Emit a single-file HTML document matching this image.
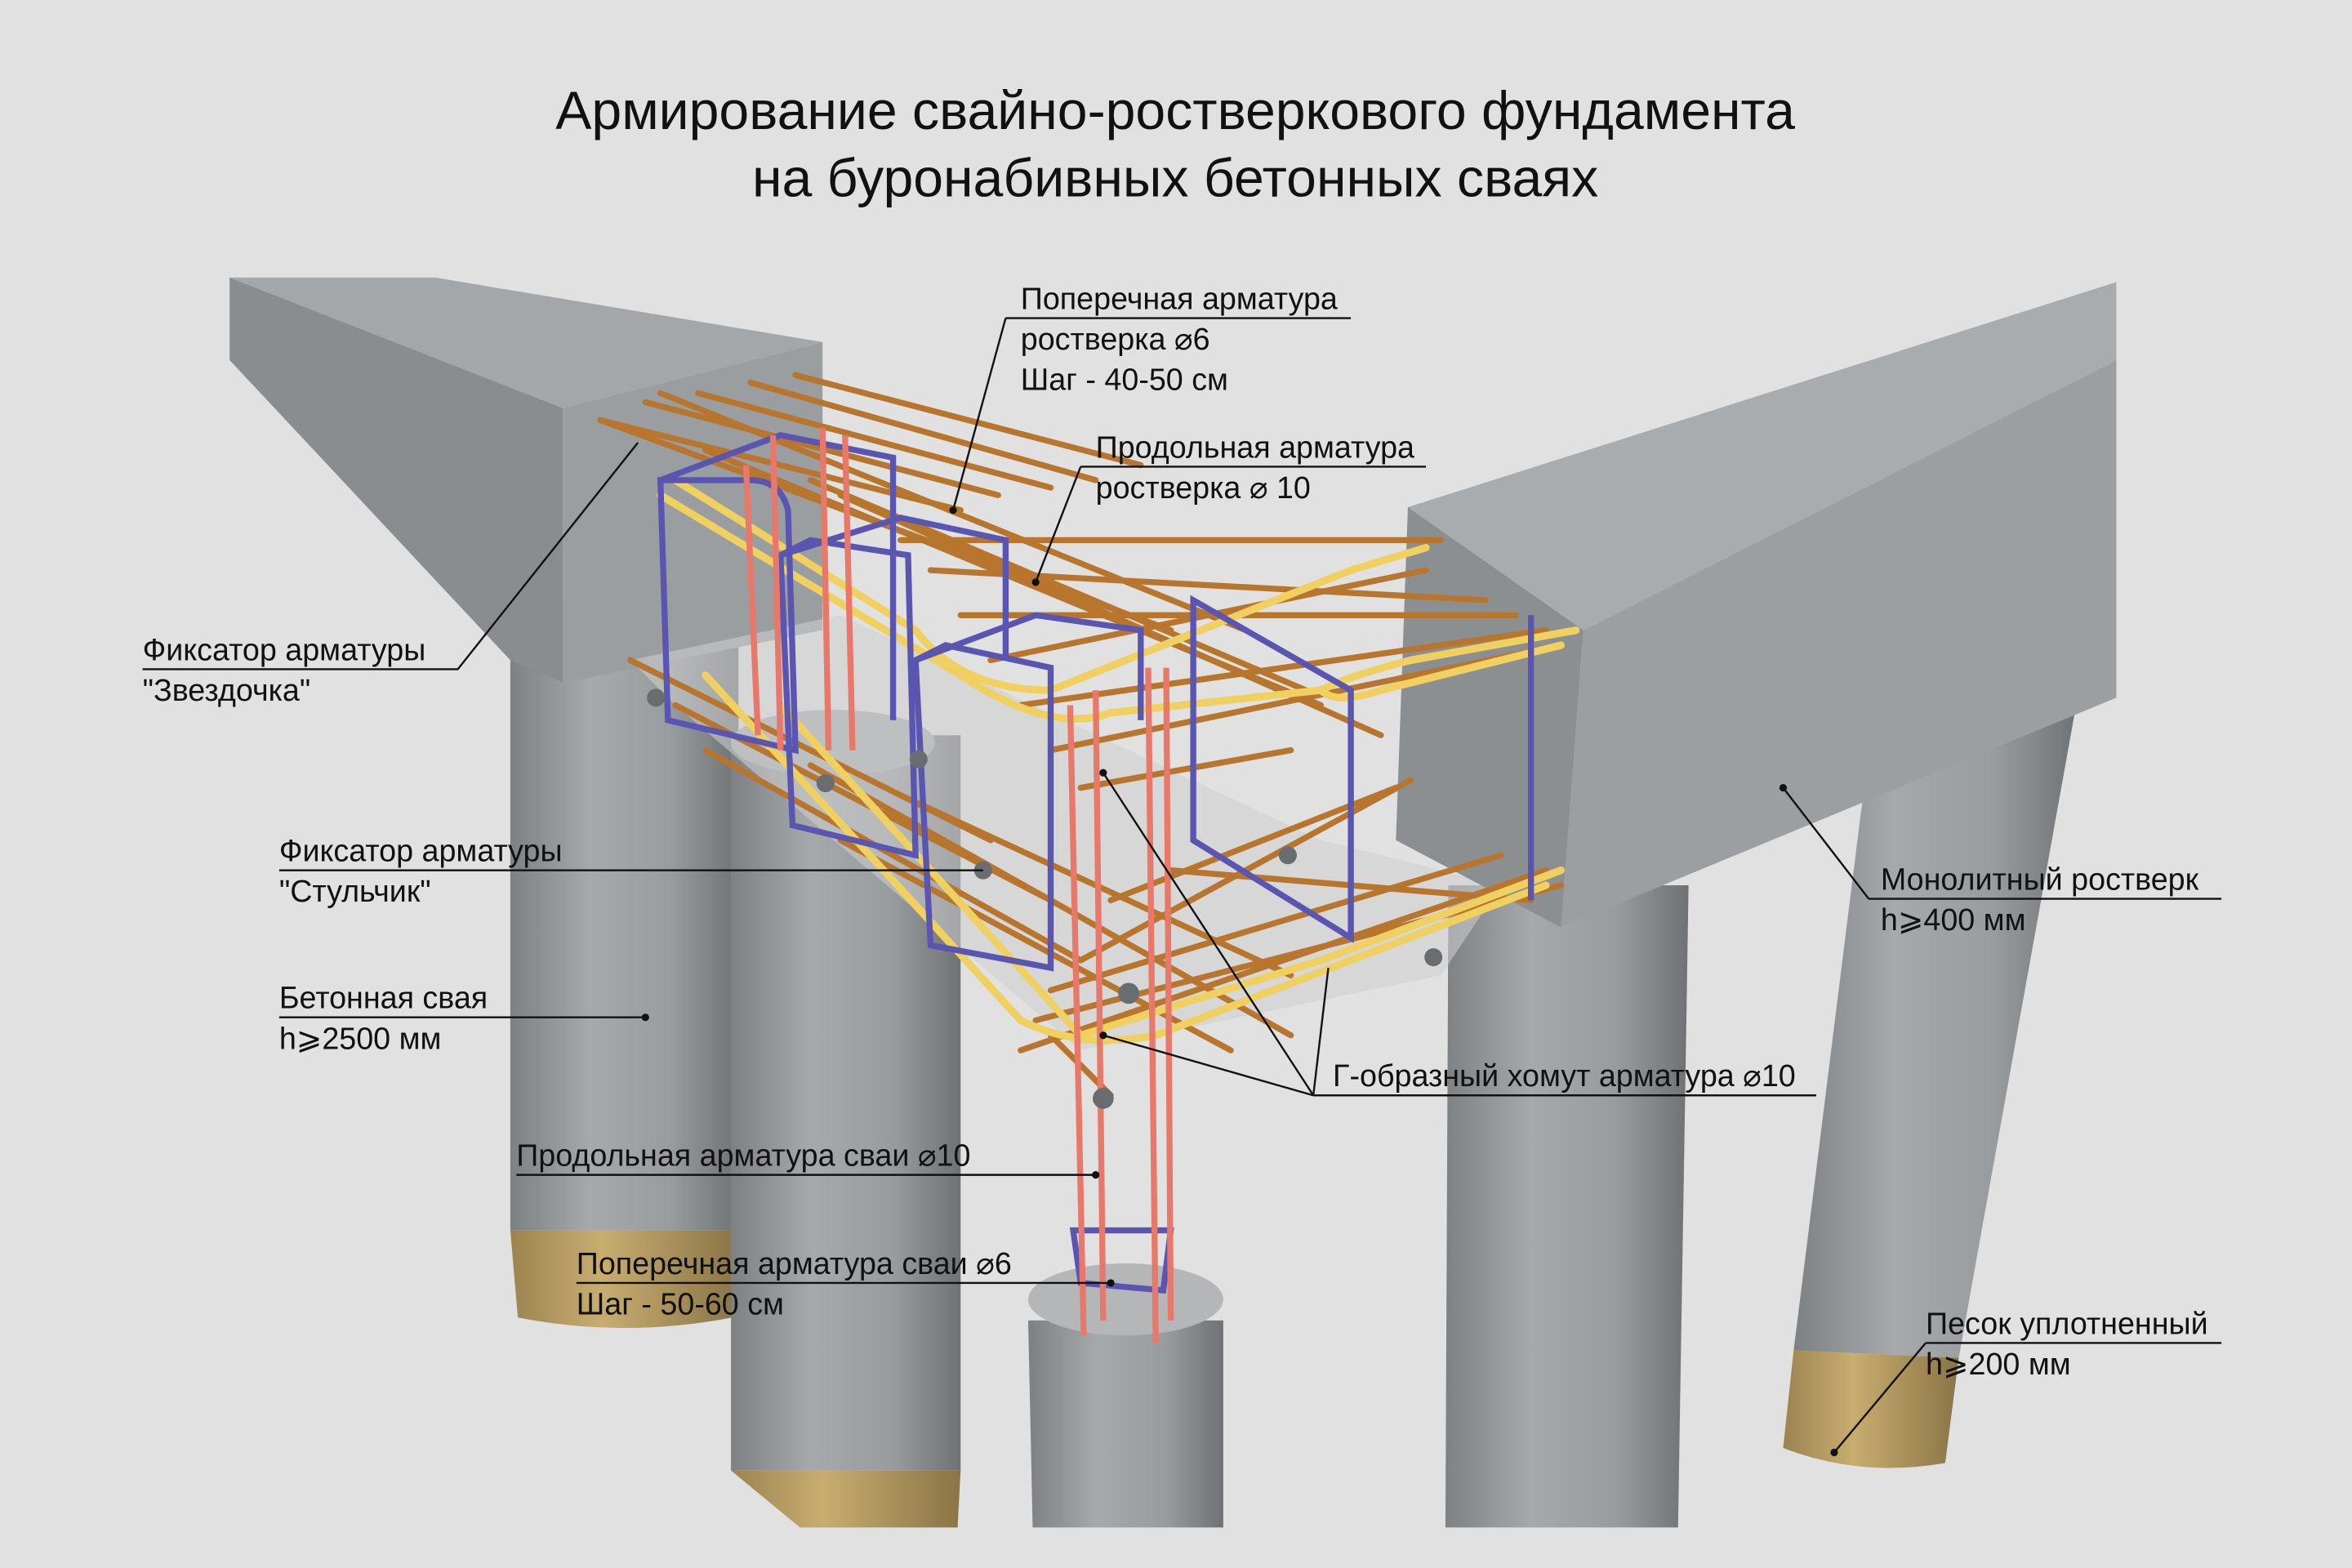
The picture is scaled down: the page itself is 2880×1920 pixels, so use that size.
<!DOCTYPE html>
<html><head><meta charset="utf-8"><style>
html,body{margin:0;padding:0;background:#e1e1e1;}
svg{display:block;}
text{font-family:"Liberation Sans","DejaVu Sans",sans-serif;fill:#111;}
</style></head><body>
<svg width="2880" height="1920" viewBox="0 0 1567 1045" preserveAspectRatio="none" xmlns="http://www.w3.org/2000/svg">
<defs>
<linearGradient id="cyl" x1="0" x2="1" y1="0" y2="0">
<stop offset="0" stop-color="#7e8184"/><stop offset="0.35" stop-color="#a6a9ac"/><stop offset="0.7" stop-color="#999c9f"/><stop offset="1" stop-color="#6f7275"/></linearGradient>
<linearGradient id="sand" x1="0" x2="1"><stop offset="0" stop-color="#9c8450"/><stop offset="0.4" stop-color="#c8ad70"/><stop offset="1" stop-color="#8a7446"/></linearGradient>
</defs>
<rect width="1567" height="1045" fill="#e1e1e1"/>
<text x="783" y="86" font-size="36" text-anchor="middle">Армирование свайно-ростверкового фундамента</text>
<text x="783" y="131" font-size="36" text-anchor="middle">на буронабивных бетонных сваях</text>

<!-- piles -->
<g>
<rect x="340" y="400" width="152" height="420" fill="url(#cyl)"/>
<path d="M340 820 L492 820 L488 878 Q416 892 345 878 Z" fill="url(#sand)"/>
<polygon points="1250,460 1385,460 1305,905 1195,900" fill="url(#cyl)"/>
<path d="M1195 900 L1305 905 L1296 975 Q1240 985 1188 965 Z" fill="url(#sand)"/>
<rect x="487" y="490" width="153" height="490" fill="url(#cyl)"/>
<path d="M487 980 L640 980 L638 1018 L533 1018 Z" fill="url(#sand)"/>
<ellipse cx="555" cy="495" rx="68" ry="22" fill="#a9abad"/>
<path d="M965 590 L1125 590 L1118 1018 L963 1018 Z" fill="url(#cyl)"/>
<path d="M685 880 L815 880 L815 1018 L688 1018 Z" fill="url(#cyl)"/>
<ellipse cx="750" cy="866" rx="65" ry="24" fill="#b4b6b8"/>
</g>

<!-- left beam -->
<polygon points="153,185 290,185 548,228 375,272" fill="#a4a7aa"/>
<polygon points="153,185 375,272 375,455 340,440 153,240" fill="#8a8d90"/>
<polygon points="375,272 548,228 548,420 375,455" fill="#9b9ea1"/>
<polygon points="420,440 560,410 880,560 1000,590 960,650 720,700 450,470" fill="#cfd0d1" opacity="0.55"/>

<!-- right beam -->
<polygon points="938,338 1410,188 1410,240 1055,420" fill="#a9acaf"/>
<polygon points="938,338 1055,420 1040,618 930,560" fill="#8c8f92"/>
<polygon points="1055,420 1410,240 1410,465 1040,618" fill="#9c9fa2"/>

<g stroke="#b8752e" stroke-width="4" stroke-linecap="round">
<line x1="400" y1="280" x2="640" y2="340"/><line x1="430" y1="268" x2="665" y2="330"/><line x1="465" y1="262" x2="700" y2="325"/><line x1="500" y1="255" x2="730" y2="320"/><line x1="530" y1="250" x2="760" y2="310"/>
<line x1="400" y1="280" x2="780" y2="420"/><line x1="440" y1="262" x2="830" y2="420"/><line x1="470" y1="300" x2="880" y2="470"/>
<line x1="540" y1="320" x2="870" y2="460"/><line x1="560" y1="330" x2="920" y2="490"/>
<line x1="600" y1="360" x2="960" y2="360"/><line x1="620" y1="380" x2="990" y2="400"/><line x1="640" y1="410" x2="1010" y2="410"/><line x1="660" y1="440" x2="950" y2="380"/><line x1="680" y1="470" x2="1030" y2="420"/><line x1="700" y1="500" x2="1040" y2="430"/><line x1="720" y1="525" x2="860" y2="500"/>
<line x1="420" y1="440" x2="660" y2="560"/><line x1="450" y1="470" x2="700" y2="600"/><line x1="470" y1="500" x2="720" y2="640"/>
<line x1="540" y1="510" x2="860" y2="690"/><line x1="600" y1="530" x2="860" y2="650"/><line x1="560" y1="560" x2="820" y2="700"/>
<line x1="680" y1="700" x2="1030" y2="580"/><line x1="690" y1="680" x2="1040" y2="590"/><line x1="700" y1="660" x2="1000" y2="570"/><line x1="720" y1="640" x2="940" y2="520"/><line x1="740" y1="600" x2="930" y2="525"/><line x1="780" y1="580" x2="1020" y2="600"/>
<line x1="700" y1="690" x2="740" y2="730"/>
</g>
<g stroke="#f0d060" stroke-width="5" fill="none" stroke-linecap="round">
<path d="M440 330 L640 450 Q700 490 740 475 L880 460 Q900 450 940 440 L1050 420"/>
<path d="M450 320 L610 420 Q640 460 700 460 L900 380 L950 365"/>
<path d="M470 450 L680 680 Q720 700 770 690 L1030 590"/>
<path d="M520 470 L720 690 L880 640 L1040 580"/>
<path d="M880 460 Q890 470 920 460 L1040 430"/>
</g>
<g stroke="#5a55b0" stroke-width="4" fill="none">
<path d="M440 320 L445 480 L530 500 L525 340 Q520 320 500 320 Z"/>
<path d="M520 370 L528 550 L610 570 L605 370 L540 360 Z"/>
<path d="M610 440 L620 630 L700 645 L700 445 L630 430 Z"/>
<path d="M795 400 L795 560 L900 625 L900 460 Z"/>
<path d="M1020 410 L1020 600"/>
<path d="M440 320 L520 290 L595 305 L595 480"/>
<path d="M520 370 L600 345 L670 360 L670 440"/>
<path d="M610 440 L690 410 L760 420 L760 480"/>
<path d="M715 820 L780 820 L775 860 L720 855 Z"/>
</g>
<g stroke="#e8786a" stroke-width="4">
<line x1="515" y1="290" x2="520" y2="500"/><line x1="548" y1="285" x2="552" y2="500"/><line x1="563" y1="290" x2="568" y2="500"/><line x1="497" y1="310" x2="505" y2="490"/>
<line x1="713" y1="470" x2="722" y2="890"/><line x1="730" y1="460" x2="735" y2="880"/><line x1="765" y1="445" x2="770" y2="895"/><line x1="777" y1="445" x2="780" y2="880"/>
</g>
<g fill="#6a6d70">
<circle cx="437" cy="465" r="6"/><circle cx="655" cy="580" r="6"/><circle cx="858" cy="570" r="6"/><circle cx="955" cy="638" r="6"/><circle cx="752" cy="662" r="7"/><circle cx="735" cy="732" r="7"/><circle cx="612" cy="506" r="6"/><circle cx="550" cy="522" r="6"/>
</g>

<g stroke="#111" stroke-width="1.3" fill="none">
<path d="M670 212 L900 212 M670 212 L635 340"/>
<path d="M720 311 L950 311 M720 311 L690 388"/>
<path d="M95 446 L305 446 L425 295"/>
<path d="M186 580 L655 580"/>
<path d="M186 678 L430 678"/>
<path d="M344 783 L730 783"/>
<path d="M384 855 L740 855"/>
<path d="M875 730 L1210 730 M875 730 L735 515 M875 730 L735 690 M875 730 L885 645"/>
<path d="M1245 599 L1480 599 M1245 599 L1188 525"/>
<path d="M1283 895 L1480 895 M1283 895 L1222 968"/>
</g>
<g fill="#111"><circle cx="430" cy="678" r="2.5"/><circle cx="730" cy="783" r="2.5"/><circle cx="740" cy="855" r="2.5"/><circle cx="1188" cy="525" r="2.5"/><circle cx="1222" cy="968" r="2.5"/><circle cx="735" cy="515" r="2.5"/><circle cx="735" cy="690" r="2.5"/><circle cx="635" cy="340" r="2.5"/><circle cx="690" cy="388" r="2.5"/></g>

<g font-size="20.5">
<text x="680" y="206">Поперечная арматура</text>
<text x="680" y="233">ростверка ⌀6</text>
<text x="680" y="260">Шаг - 40-50 см</text>
<text x="730" y="305">Продольная арматура</text>
<text x="730" y="332">ростверка ⌀ 10</text>
<text x="95" y="440">Фиксатор арматуры</text>
<text x="95" y="467">"Звездочка"</text>
<text x="186" y="574">Фиксатор арматуры</text>
<text x="186" y="601">"Стульчик"</text>
<text x="186" y="672">Бетонная свая</text>
<text x="186" y="699">h⩾2500 мм</text>
<text x="344" y="777">Продольная арматура сваи ⌀10</text>
<text x="384" y="849">Поперечная арматура сваи ⌀6</text>
<text x="384" y="876">Шаг - 50-60 см</text>
<text x="888" y="724">Г-образный хомут арматура ⌀10</text>
<text x="1253" y="593">Монолитный ростверк</text>
<text x="1253" y="620">h⩾400 мм</text>
<text x="1283" y="889">Песок уплотненный</text>
<text x="1283" y="916">h⩾200 мм</text>
</g>
</svg>
</body></html>
